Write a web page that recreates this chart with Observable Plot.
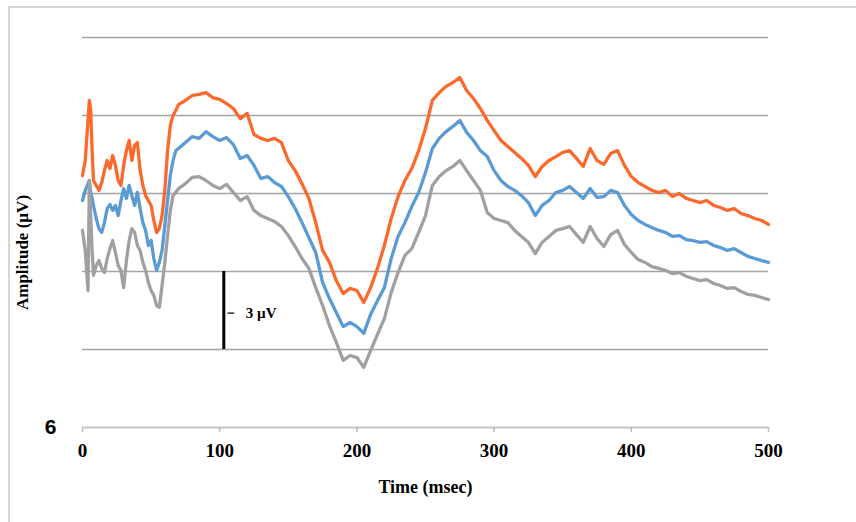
<!DOCTYPE html>
<html>
<head>
<meta charset="utf-8">
<script src="https://cdn.jsdelivr.net/npm/d3@7"></script>
<script src="https://cdn.jsdelivr.net/npm/@observablehq/plot@0.6"></script>
<style>
  html, body { margin: 0; padding: 0; background: #fff; }
  #wrap { position: relative; width: 856px; height: 522px; overflow: hidden; }
  #frame { position: absolute; left: 8px; top: 6px; width: 900px; height: 600px;
           border-top: 2px solid #d6d6d6; border-left: 2px solid #d6d6d6; pointer-events: none; }
</style>
</head>
<body>
<div id="wrap"><div id="chart"></div><div id="frame"></div></div>
<script>
// Time samples (msec)
const time = [0,2,4,5,6,7,8,10,12,14,16,18,20,22,24,26,28,30,32,34,36,38,40,42,44,46,48,50,52,54,56,58,60,62,64,66,68,70,
  75,80,85,90,95,100,105,110,115,120,125,130,135,140,145,150,155,160,165,170,175,180,185,190,195,200,
  205,210,215,220,225,230,235,240,245,250,255,260,265,270,275,280,285,290,295,300,305,310,315,320,325,330,
  335,340,345,350,355,360,365,370,375,380,385,390,395,400,405,410,415,420,425,430,435,440,445,450,455,460,
  465,470,475,480,485,490,495,500];

// Amplitudes (µV, plotted with offsets as in the figure)
const blueSeries = [8.73,9.12,9.38,9.50,9.04,8.81,8.54,8.04,7.65,7.50,7.88,8.42,8.58,8.35,8.54,8.15,8.73,9.19,8.81,9.31,8.92,8.54,9.04,8.42,7.88,7.58,7.00,7.19,6.50,6.04,6.35,6.81,7.77,8.73,9.69,10.27,10.65,10.73,
  10.96,11.19,11.12,11.38,11.19,11.04,11.15,10.88,10.35,10.46,
  10.08,9.58,9.65,9.42,9.27,8.88,8.42,7.88,7.31,6.73,
  5.58,4.96,4.42,3.88,4.04,3.88,3.62,4.35,4.88,5.38,
  6.50,7.35,7.88,8.50,9.04,9.81,10.73,11.12,11.38,11.58,
  11.81,11.35,11.04,10.65,10.42,9.88,9.50,9.27,9.12,8.92,
  8.65,8.15,8.54,8.73,9.04,9.12,9.27,9.04,8.81,9.19,
  8.85,8.88,9.12,9.04,8.54,8.19,7.96,7.81,7.69,7.58,
  7.50,7.35,7.38,7.23,7.19,7.12,7.15,7.00,6.92,6.81,
  6.88,6.73,6.58,6.50,6.42,6.35];

const orangeSeries = [9.69,10.27,11.81,12.58,12.19,10.65,9.50,9.31,9.12,9.42,9.88,10.27,9.96,10.46,10.08,9.50,9.31,10.08,10.65,11.04,10.27,10.85,10.96,9.88,9.31,8.92,8.73,8.54,7.96,7.50,7.65,8.15,9.12,10.65,11.62,12.00,12.19,12.42,
  12.58,12.77,12.81,12.88,12.69,12.62,12.46,12.27,11.88,12.08,
  11.27,11.12,11.04,11.12,10.96,10.27,9.88,9.38,8.81,7.88,
  6.81,6.35,5.65,5.15,5.35,5.27,4.81,5.38,6.12,7.00,
  8.04,8.88,9.50,9.96,10.65,11.50,12.58,12.88,13.12,13.27,
  13.46,12.96,12.65,12.27,11.81,11.42,11.04,10.81,10.58,10.35,
  10.08,9.65,10.04,10.27,10.42,10.58,10.65,10.35,10.04,10.73,
  10.27,10.12,10.54,10.65,10.08,9.65,9.42,9.27,9.12,9.04,
  9.12,8.88,9.00,8.81,8.73,8.65,8.73,8.54,8.46,8.35,
  8.42,8.23,8.15,8.04,7.96,7.81];

const graySeries = [7.58,6.81,5.27,9.50,8.15,6.81,5.85,6.23,6.42,6.12,5.96,6.50,6.88,7.19,6.73,6.23,6.04,5.38,6.42,7.19,7.65,7.50,7.00,6.81,6.35,6.04,5.58,5.27,5.08,4.69,4.62,5.46,6.35,7.38,8.35,8.92,9.04,9.19,
  9.38,9.62,9.65,9.50,9.31,9.19,9.35,9.04,8.73,8.88,
  8.35,8.15,8.04,7.92,7.73,7.38,6.96,6.50,6.12,5.38,
  4.69,3.92,3.27,2.58,2.77,2.69,2.31,2.96,3.58,4.19,
  5.19,5.96,6.62,6.88,7.50,8.15,9.31,9.65,9.88,10.04,
  10.27,9.88,9.50,9.12,8.27,8.04,7.96,7.88,7.58,7.35,
  7.12,6.69,7.12,7.35,7.58,7.65,7.73,7.42,7.12,7.73,
  7.27,6.96,7.42,7.58,7.04,6.73,6.46,6.35,6.19,6.12,
  6.04,5.92,5.96,5.81,5.73,5.65,5.69,5.54,5.46,5.35,
  5.38,5.23,5.12,5.08,5.00,4.92];

const seriesNames = ["Series 1", "Series 2", "Series 3"];
const seriesColors = ["#5b9bd5", "#fb6a2c", "#a0a0a2"];
const xTicks = [0, 100, 200, 300, 400, 500];
const gridValues = [3, 6, 9, 12, 15];
const xLabel = "Time (msec)";
const yLabel = "Amplitude (µV)";
const strayLabel = "6";
const scaleBar = [{time: 103, from: 3, to: 6, mid: 4.4, tickFrom: 106, tickTo: 111, textAt: 119, label: "3 µV"}];

const rows = [];
[blueSeries, orangeSeries, graySeries].forEach((vals, i) => {
  vals.forEach((v, j) => rows.push({series: seriesNames[i], time: time[j], value: v}));
});

const serif = "'Liberation Serif', 'Times New Roman', serif";

const chart = Plot.plot({
  width: 856,
  height: 522,
  marginLeft: 82,
  marginRight: 88,
  marginTop: 37,
  marginBottom: 95,
  style: {background: "transparent", fontFamily: serif, color: "black"},
  x: {domain: [0, 500]},
  y: {domain: [0, 15], axis: null},
  color: {domain: seriesNames, range: seriesColors},
  marks: [
    Plot.ruleY(gridValues, {stroke: "#a3a3a3", strokeWidth: 1.6}),
    Plot.ruleY([0], {stroke: "#c4c4c4", strokeWidth: 2}),
    Plot.axisX(xTicks, {tickSize: 5, tickPadding: 11, stroke: "#bdbdbd", strokeWidth: 1.5, fill: "black",
      fontSize: 19, fontWeight: "bold", fontFamily: serif, label: null}),
    ...seriesNames.map(s => Plot.line(rows.filter(d => d.series === s),
      {x: "time", y: "value", stroke: "series", strokeWidth: 3.3, strokeLinejoin: "round"})),
    Plot.ruleX(scaleBar, {x: "time", y1: "from", y2: "to", stroke: "black", strokeWidth: 3}),
    Plot.ruleY(scaleBar, {y: "mid", x1: "tickFrom", x2: "tickTo", stroke: "black", strokeWidth: 1.2}),
    Plot.text(scaleBar, {x: "textAt", y: "mid", text: "label", textAnchor: "start", fontSize: 15, fontWeight: "bold", fontFamily: serif}),
    Plot.text([xLabel], {frameAnchor: "bottom", lineAnchor: "middle", textAnchor: "middle", dy: 60, fontSize: 18, fontWeight: "bold", fontFamily: serif}),
    Plot.text([yLabel], {frameAnchor: "left", lineAnchor: "middle", textAnchor: "middle", rotate: -90, dx: -60, dy: 20, fontSize: 17, fontWeight: "bold", fontFamily: serif}),
    Plot.text([strayLabel], {frameAnchor: "bottom-left", lineAnchor: "middle", textAnchor: "middle", dx: -32, dy: 0, fontSize: 21, fontWeight: "bold", fontFamily: "'Liberation Sans', Arial, sans-serif"})
  ]
});
document.getElementById("chart").appendChild(chart);
</script>
</body>
</html>
